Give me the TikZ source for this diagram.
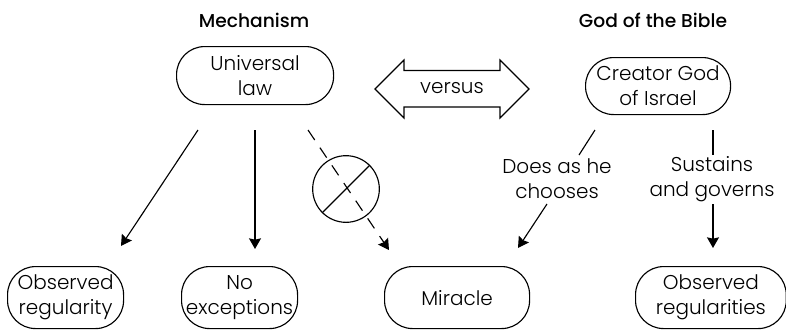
\documentclass[tikz,border=0pt]{standalone}
\usepackage{fontspec}
\setmainfont{Poppins Light}[BoldFont=Poppins Medium]
\usetikzlibrary{arrows.meta}
\tikzset{
  rbox/.style={draw,line width=0.85pt,rounded corners=21pt,align=center,font=\fontsize{15}{18.75}\selectfont,inner sep=0pt,anchor=north west},
  lab/.style={align=center,font=\fontsize{15}{18.75}\selectfont,inner sep=0pt},
  head/.style={font=\fontsize{14}{16}\selectfont,inner sep=0pt},
  arr/.style={line width=0.85pt,-{Stealth[length=8pt,width=9pt,inset=1pt]}},
  conn/.style={line width=0.85pt},
}
\begin{document}
\begin{tikzpicture}[x=0.75pt,y=-0.75pt]
\useasboundingbox (0,0) rectangle (786,329);
\node[head] (h1) at (254,20) {\textbf{Mechanism}};
\node[head] (h2) at (653,20) {\textbf{God of the Bible}};
\node[rbox,minimum width=117.75pt,minimum height=43.5pt] (ul) at (176,46) {Universal\\law};
\node[rbox,minimum width=108.75pt,minimum height=42.75pt] (cg) at (585,57) {Creator God\\of Israel};
\node[rbox,minimum width=87pt,minimum height=46.5pt] (or) at (7,266) {Observed\\regularity};
\node[rbox,minimum width=87pt,minimum height=46.5pt] (ne) at (181,266) {No\\exceptions};
\node[rbox,minimum width=108.75pt,minimum height=46.5pt] (mi) at (384,266) {Miracle};
\node[rbox,minimum width=113pt,minimum height=46.5pt] (rs) at (635,266) {Observed\\regularities};
% double arrow
\draw[line width=0.85pt,line join=miter] (375,89) -- (404,60) -- (404,70.5) -- (500,70.5) -- (500,60) -- (529,89) -- (500,118) -- (500,107) -- (404,107) -- (404,118) -- cycle;
\node[lab] (vs) at (452,88) {versus};
% prohibition sign
\node[draw,circle,line width=0.85pt,minimum size=50pt,inner sep=0pt] (no) at (346,189) {};
\draw[conn] (no.225) -- (no.45);
% free ends
\coordinate (a1) at (198,130); \coordinate (a2) at (121,246);
\coordinate (b1) at (255,130); \coordinate (b2) at (255,249);
\coordinate (c1) at (308,130); \coordinate (c2) at (389,250);
\coordinate (d1) at (595,130); \coordinate (d2) at (579,155);
\coordinate (d3) at (547,204); \coordinate (d4) at (518,248);
\coordinate (e1) at (713,130); \coordinate (e2) at (713,155);
\coordinate (e3) at (713,204); \coordinate (e4) at (713,248);
\draw[arr] (a1) -- (a2);
\draw[arr] (b1) -- (b2);
\draw[arr,dashed,dash pattern=on 9pt off 7pt] (c1) -- (c2);
\draw[conn] (d1) -- (d2);
\draw[arr] (d3) -- (d4);
\draw[conn] (e1) -- (e2);
\draw[arr] (e3) -- (e4);
\node[lab] (l1) at (557,179) {Does as he\\chooses};
\node[lab] (l2) at (712,179) {Sustains\\and governs};
\end{tikzpicture}
\end{document}
